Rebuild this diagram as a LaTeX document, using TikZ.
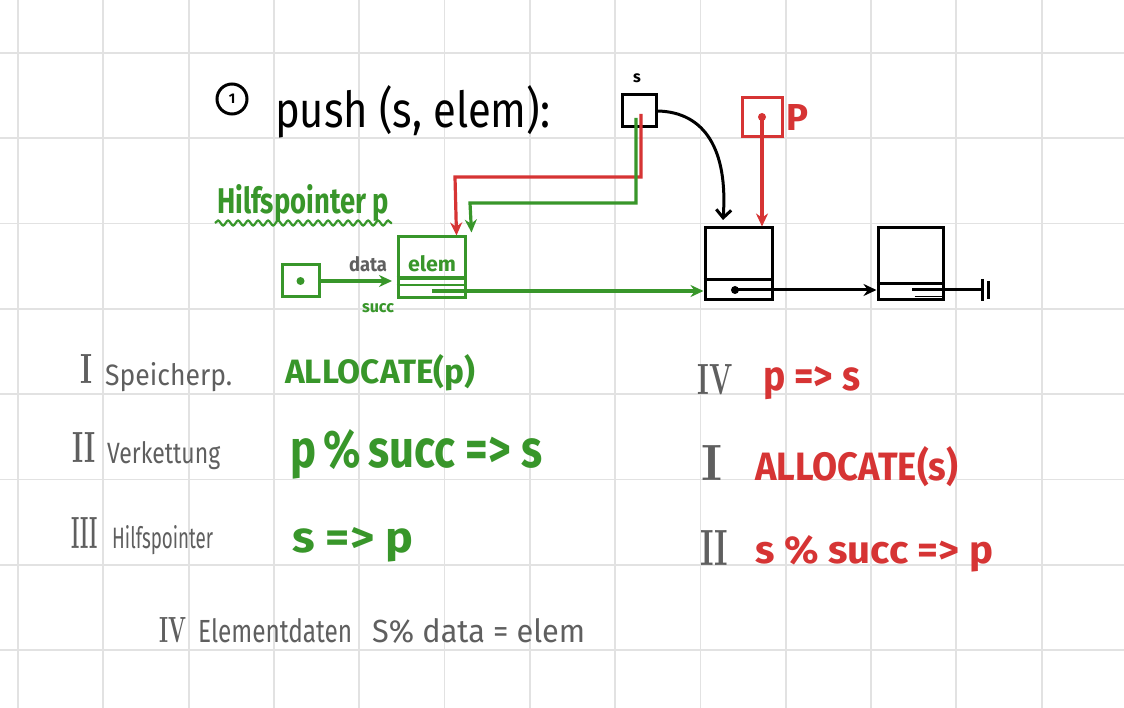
\documentclass[tikz,border=0pt]{standalone}
\usepackage{fontspec}
\newfontfamily\hand{Fira Sans}
\usetikzlibrary{arrows.meta,calc,decorations.pathmorphing}
\definecolor{gr}{RGB}{56,150,42}
\definecolor{rd}{RGB}{214,52,52}
\definecolor{gt}{RGB}{95,95,95}
\definecolor{gl}{RGB}{226,226,226}
\newcommand{\fitwh}[3]{\resizebox{#1pt}{#2pt}{#3}}
\begin{document}
\begin{tikzpicture}[x=1pt,y=-1pt,
 gridline/.style={draw=gl,line width=1.8pt},
 bline/.style={draw=black,line width=3pt},
 gline/.style={draw=gr,line width=3.2pt},
 rline/.style={draw=rd,line width=3.2pt},
 box/.style={draw,rectangle,inner sep=0pt,line width=3pt},
 txt/.style={inner sep=0pt,anchor=base west,font=\hand},
 code/.style={txt,font=\hand\bfseries},
 num/.style={inner sep=0pt,anchor=base,text=gt,font=\rmfamily\bfseries},
 tip/.style={-{Stealth[length=13pt,width=12pt]}},
 barb/.style={-{Straight Barb[length=8pt,width=15pt,line width=3pt]}}
]
\fill[white] (0,0) rectangle (1124,708);
\useasboundingbox (0,0) rectangle (1124,708);
\foreach \i in {0,...,13} \draw[gridline] (18+85.3*\i,0) -- (18+85.3*\i,708);
\foreach \j in {0,...,7} \draw[gridline] (0,53+85.3*\j) -- (1124,53+85.3*\j);

% title
\node[circle,draw,line width=3pt,minimum size=30pt,inner sep=0pt,font=\hand\bfseries\fontsize{14}{14}\selectfont] (one) at (232,99) {1};
\node[txt] (push) at (275,128) {\fitwh{275}{42}{push (s, elem):}};

% s box
\node[box,minimum width=34pt,minimum height=32pt] (s) at (639,111) {};
\node[inner sep=0pt,font=\hand\bfseries\fontsize{16}{16}\selectfont] (slab) at (637,78) {s};

% p box
\node[box,draw=rd,minimum width=40pt,minimum height=39pt] (p) at (762,117) {};
\fill[rd] (p.center) circle (4);
\node[txt,text=rd,font=\hand\bfseries] (plab) at (786,131) {\fitwh{22}{26}{P}};

% list nodes
\node[box,minimum width=67pt,minimum height=72pt] (n1) at (738.5,264) {};
\draw[bline] ($(n1.south west)+(0,-22)$) -- ($(n1.south east)+(0,-22)$);
\node[box,minimum width=65pt,minimum height=72pt] (n2) at (910.5,264) {};
\draw[bline] ($(n2.south west)+(0,-18)$) -- ($(n2.south east)+(0,-18)$);
\coordinate (ptr1) at (735,290);
\fill (ptr1) circle (4);
\draw[bline,tip] (ptr1) -- (n2.west |- ptr1);
\coordinate (ptr2) at (912,290);
\coordinate (nil) at (981,290);
\draw[bline] (ptr2) -- (nil);
\draw[bline,line width=1.6pt] ($(n2.south east)+(-30,-13)$) -- ($(n2.south east)+(0,-13)$);
\draw[bline,line width=1.6pt] ($(n2.south east)+(-30,-5)$) -- ($(n2.south east)+(0,-5)$);
\draw[bline] (982,279) -- (982,301);
\draw[bline] (988,281) -- (988,299);

% s -> n1 curved
\coordinate (sarr) at (723,220);
\draw[bline,barb] (s.east) .. controls (705,112) and (728,150) .. (sarr);
% p -> n1
\draw[rline,tip] (p.center) -- (p.center |- n1.north);

% green helper pointer and element
\node[box,draw=gr,minimum width=67pt,minimum height=61pt] (e) at (431.5,267.5) {};
\node[inner sep=0pt,anchor=base,text=gr,font=\hand\bfseries] (etxt) at (432,272) {\fitwh{48}{16}{elem}};
\draw[gline] ($(e.west)+(0,10.5)$) -- ($(e.east)+(0,10.5)$);
\draw[gline,line width=1.6pt] ($(e.west)+(0,17.5)$) -- ($(e.east)+(0,17.5)$);
\coordinate (esucc) at (432,291);
\draw[gline,tip] (esucc) -- (n1.west |- esucc);

\node[box,draw=gr,minimum width=37pt,minimum height=32pt] (h) at (300.5,281) {};
\fill[gr] (h.center) circle (4);
\coordinate (dtip) at (392,281);
\draw[gline,tip] (h.east) -- (dtip);
\node[inner sep=0pt,anchor=base,text=gt,font=\hand\bfseries] (data) at (368,272) {\fitwh{38}{15}{data}};
\node[inner sep=0pt,anchor=base,text=gr,font=\hand\bfseries] (succ) at (378,313) {\fitwh{32}{9}{succ}};

\node[code,text=gr] (hp) at (217,214) {\fitwh{172}{29}{Hilfspointer p}};
\draw[gr,line width=2.2pt,decorate,decoration={snake,amplitude=2.5pt,segment length=10pt}] (215,223) -- (392,223);

% s -> elem (red and green)
\draw[rline,tip] (641,114) -- (641,177) -- (455,177) -- ($(e.north east)+(-10,0)$);
\draw[gline,tip] (636,118) -- (636,203) -- (470,203) -- ($(e.north east)+(5,-3)$);

% left steps
\node[num] (r1) at (86,384) {\fitwh{12}{29}{I}};
\node[txt,text=gt] (t1) at (105,385) {\fitwh{127}{23}{Speicherp.}};
\node[code,text=gr] (c1) at (285,383) {\fitwh{190}{29}{ALLOCATE(p)}};
\node[num] (r2) at (84,462) {\fitwh{23}{30}{II}};
\node[txt,text=gt] (t2) at (107,463) {\fitwh{113}{22}{Verkettung}};
\node[code,text=gr] (c2) at (290,467) {\fitwh{252}{38}{p\,\%\,succ => s}};
\node[num] (r3) at (85,548) {\fitwh{26}{31}{III}};
\node[txt,text=gt] (t3) at (112,548) {\fitwh{101}{23}{Hilfspointer}};
\node[code,text=gr] (c3) at (292,552) {\fitwh{121}{25}{s => p}};
\node[num] (r4) at (173,642) {\fitwh{27}{25}{IV}};
\node[txt,text=gt] (t4) at (198,642) {\fitwh{154}{24}{Elementdaten}};
\node[txt,text=gt] (t4b) at (372,642) {\fitwh{213}{24}{S\% data = elem}};

% right steps
\node[num] (r5) at (715,395) {\fitwh{35}{30}{IV}};
\node[code,text=rd] (c5) at (763,391) {\fitwh{97}{24}{p => s}};
\node[num] (r6) at (712,480) {\fitwh{21}{35}{I}};
\node[code,text=rd] (c6) at (755,480) {\fitwh{203}{34}{ALLOCATE(s)}};
\node[num] (r7) at (714,565) {\fitwh{28}{35}{II}};
\node[code,text=rd] (c7) at (755,563) {\fitwh{238}{28}{s \% succ => p}};
\end{tikzpicture}
\end{document}
